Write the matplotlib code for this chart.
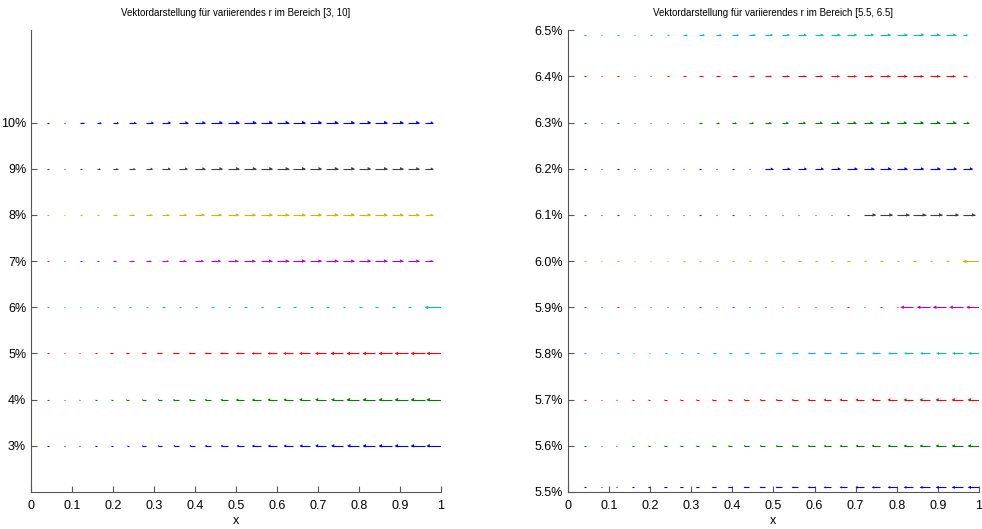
import numpy as np
import matplotlib.pyplot as plt

# MATLAB default colour order (b g r c m y k)
COLORS = [(0, 0, 1), (0, 0.5, 0), (1, 0, 0), (0, 0.75, 0.75),
          (0.75, 0, 0.75), (0.75, 0.75, 0), (0.25, 0.25, 0.25)]

x_points = [0.04 * k for k in range(1, 26)]

# left panel: r = 3 .. 10 (%), arrow length u in 1/1000 of x
r_left = [3, 4, 5, 6, 7, 8, 9, 10]
u_left = [
    [-1, -2, -3, -4, -6, -7, -9, -10, -12, -13, -15, -17, -18, -20, -21, -23, -24, -26, -27, -28, -30, -31, -32, -33, -35],
    [-1, -2, -3, -5, -6, -8, -9, -11, -13, -14, -16, -17, -19, -20, -22, -23, -25, -26, -27, -29, -30, -31, -32, -33, -35],
    [-1, -2, -4, -5, -7, -8, -10, -12, -13, -15, -16, -18, -19, -21, -22, -24, -25, -26, -28, -29, -30, -31, -32, -33, -35],
    [1, 2, 3, 4, 5, 5, 5, 6, 6, 6, 6, 6, 7, 7, 7, 7, 7, 7, 7, 7, 7, 7, 7, 5, -40],
    [1, 2, 4, 6, 8, 10, 12, 15, 17, 20, 22, 24, 26, 27, 28, 28, 28, 28, 28, 28, 28, 27, 26, 20, 0],
    [1, 2, 4, 6, 9, 11, 14, 16, 19, 22, 24, 26, 27, 28, 28, 28, 28, 28, 28, 28, 28, 27, 26, 20, 0],
    [1, 3, 5, 8, 11, 13, 16, 19, 21, 24, 26, 27, 28, 28, 28, 28, 28, 28, 28, 28, 28, 27, 26, 20, 0],
    [2, 4, 8, 10, 13, 15, 18, 20, 22, 24, 26, 27, 28, 28, 28, 28, 28, 28, 28, 28, 28, 27, 26, 20, 0],
]

# right panel: r = 5.5 .. 6.5 (%)
r_right = [5.51, 5.6, 5.7, 5.8, 5.9, 6.0, 6.1, 6.2, 6.3, 6.4, 6.49]
u_right = [
    [-1, -2, -3, -4, -5, -6, -7, -8, -9, -10, -12, -13, -14, -15, -16, -17, -18, -19, -20, -21, -22, -23, -24, -25, -26],
    [-1, -2, -3, -4, -5, -6, -7, -8, -9, -10, -12, -13, -14, -15, -16, -17, -18, -19, -20, -21, -22, -23, -24, -25, -26],
    [-1, -2, -3, -4, -5, -6, -7, -8, -9, -10, -12, -13, -14, -15, -16, -17, -18, -19, -20, -21, -22, -23, -24, -25, -26],
    [-1, -1, -2, -3, -4, -5, -6, -7, -8, -9, -10, -12, -13, -14, -15, -16, -17, -18, -19, -20, -21, -22, -23, -24, -25],
    [0, 0, 0, 1, 1, 1, 1, 1, 1, 1, 1, 1, 1, 1, 1, 1, 1, 1, 1, 1, -30, -30, -31, -31, -30],
    [1, 1, 2, 2, 3, 3, 4, 4, 4, 5, 5, 5, 5, 6, 6, 6, 6, 6, 6, 6, 6, 6, 6, 6, -40],
    [0, 0, 0, 0, 1, 1, 1, 1, 1, 1, 1, 1, 1, 1, 1, 1, 1, 28, 29, 30, 30, 30, 30, 30, 0],
    [0, 0, 0, 1, 1, 1, 1, 1, 1, 1, 1, 18, 19, 20, 21, 22, 23, 24, 25, 25, 25, 25, 25, 24, 0],
    [0, 1, 1, 2, 2, 3, 3, 5, 7, 9, 11, 13, 15, 17, 18, 19, 20, 21, 22, 23, 24, 24, 23, 15, 0],
    [0, 1, 1, 2, 3, 5, 6, 8, 9, 11, 13, 15, 17, 18, 19, 20, 21, 22, 23, 24, 24, 24, 22, 10, 0],
    [1, 1, 2, 3, 5, 7, 9, 11, 12, 14, 15, 17, 18, 19, 20, 21, 22, 23, 24, 25, 25, 24, 23, 12, 0],
]

plt.rcParams['font.family'] = ['Liberation Sans Narrow', 'Liberation Sans', 'DejaVu Sans']

fig = plt.figure(figsize=(9.82, 5.29), dpi=100)
ax1 = fig.add_axes([0.0316, 0.070, 0.4175, 0.873])
ax2 = fig.add_axes([0.5784, 0.070, 0.4185, 0.873])


def drawPanel(ax, rs, us):
    xs = np.array(x_points)
    for i, (r, u) in enumerate(zip(rs, us)):
        col = COLORS[i % len(COLORS)]
        u = np.array(u) / 1000.0
        ys = np.full(len(xs), r)
        # shafts; very short vectors still show as a faint dot
        ends = xs + np.where(np.abs(u) < 0.003, 0.003, u)
        ax.hlines(ys, xs, ends, colors=[col], linewidth=0.8)
        # heads grow with the arrow length, as in MATLAB quiver
        size = np.clip(np.abs(u) / 0.028, 0, 1) * 2.5
        tips = xs + 0.9 * u
        right = u > 0.002
        left = u < -0.002
        ax.scatter(tips[right], ys[right], marker='>', s=size[right] ** 2,
                   color=col, linewidths=0, zorder=3)
        ax.scatter(tips[left], ys[left], marker='<', s=size[left] ** 2,
                   color=col, linewidths=0, zorder=3)
    ax.set_xlim(0, 1)
    ax.set_xticks(np.arange(0, 1.01, 0.1))
    ax.set_xticklabels(['0'] + ['%g' % v for v in np.arange(0.1, 0.95, 0.1)] + ['1'])
    ax.set_xlabel('x', fontsize=9, labelpad=2)
    for s in ['top', 'right']:
        ax.spines[s].set_visible(False)
    for s in ['left', 'bottom']:
        ax.spines[s].set_color('#555555')
    ax.tick_params(direction='in', length=4, colors='#555555', labelcolor='black',
                   labelsize=9)
    ax.tick_params(axis='x', pad=6)


drawPanel(ax1, r_left, u_left)
ax1.set_ylim(2, 12)
ax1.set_yticks(r_left)
ax1.set_yticklabels(['%d%%' % r for r in r_left])
ax1.set_title('Vektordarstellung für variierendes r im Bereich [3, 10]', fontsize=7, pad=10)

drawPanel(ax2, r_right, u_right)
ax2.set_ylim(5.5, 6.5)
ticks_right = [5.5, 5.6, 5.7, 5.8, 5.9, 6.0, 6.1, 6.2, 6.3, 6.4, 6.5]
ax2.set_yticks(ticks_right)
ax2.set_yticklabels(['%.1f%%' % r for r in ticks_right])
ax2.set_title('Vektordarstellung für variierendes r im Bereich [5.5, 6.5]', fontsize=7, pad=10)

fig.savefig('out.png', dpi=100)
